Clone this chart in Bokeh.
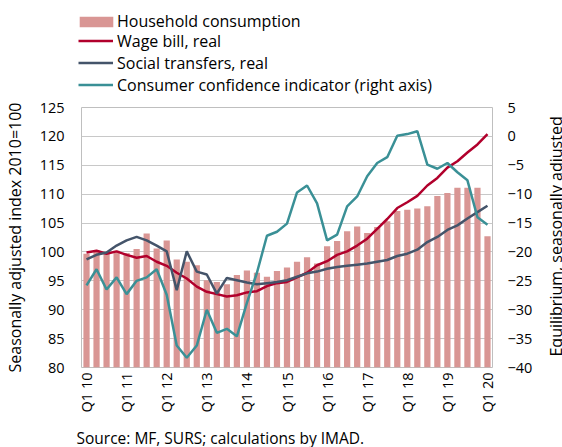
import math
from bokeh.plotting import figure
from bokeh.layouts import column, row
from bokeh.models import (Range1d, LinearAxis, FixedTicker, Legend, LegendItem, Label)
from bokeh.embed import file_html
from bokeh.resources import INLINE

# ---------------- data ----------------
tick_labels = ["Q1 10", "Q1 11", "Q1 12", "Q1 13", "Q1 14", "Q1 15",
               "Q1 16", "Q1 17", "Q1 18", "Q1 19", "Q1 20"]

household = [99.7, 100.3, 99.8, 100.2, 99.8, 100.5, 103.2, 100.6, 102.0, 98.7,
             98.3, 97.7, 95.1, 94.8, 94.4, 96.0, 96.8, 96.4, 95.7, 96.7,
             97.3, 98.3, 99.1, 98.0, 101.0, 101.9, 103.6, 104.4, 103.3, 104.3,
             105.3, 107.1, 107.3, 107.5, 107.9, 109.7, 110.2, 111.1, 111.1, 111.1,
             102.7]

wage_bill = [99.9, 100.2, 99.7, 100.1, 99.5, 99.0, 99.3, 98.3, 97.6, 96.4,
             95.4, 94.0, 93.1, 92.7, 92.3, 92.5, 93.0, 93.2, 94.1, 94.6,
             94.8, 95.6, 96.4, 97.7, 98.4, 99.5, 100.1, 101.1, 102.3, 104.0,
             105.7, 107.6, 108.6, 109.7, 111.5, 112.8, 114.6, 115.7, 117.2, 118.6,
             120.4]

social = [98.7, 99.5, 99.9, 101.1, 102.0, 102.6, 102.0, 101.1, 100.1, 93.4,
          100.1, 96.6, 96.1, 92.8, 95.5, 95.1, 94.7, 94.4, 94.6, 94.8,
          95.1, 95.7, 96.3, 96.6, 97.1, 97.4, 97.6, 97.8, 98.0, 98.3,
          98.6, 99.3, 99.7, 100.4, 101.7, 102.6, 103.8, 104.6, 105.8, 106.9,
          108.0]

confidence = [-25.8, -23.0, -26.5, -24.4, -27.3, -25.0, -24.4, -23.0, -27.4, -36.2,
              -38.3, -36.2, -30.0, -34.0, -33.3, -34.6, -28.8, -23.6, -17.2, -16.5,
              -15.1, -9.7, -8.5, -11.6, -18.0, -17.0, -12.1, -10.4, -6.9, -4.6,
              -3.6, 0.1, 0.4, 0.9, -4.9, -5.6, -4.6, -6.2, -7.6, -14.0,
              -15.3]

left_ticks = [80, 85, 90, 95, 100, 105, 110, 115, 120, 125]
right_ticks = [-40, -35, -30, -25, -20, -15, -10, -5, 0, 5]

series_names = ["Household consumption", "Wage bill, real", "Social transfers, real",
                "Consumer confidence indicator (right axis)"]
left_title = "Seasonally adjusted index 2010=100"
right_title = "Equilibrium, seasonally adjusted"
source_note = "Source: MF, SURS; calculations  by IMAD."

# ---------------- style ----------------
FONT = "Open Sans"
BAR_C = "#D99694"
RED_C = "#B1002C"
BLUE_C = "#44546A"
TEAL_C = "#3A9096"
GRID_C = "#C8C8C8"
LW = 2.5
BAR_W = 0.62

n = len(household)
xs = list(range(n))

TOP_H = 95       # legend strip
MAIN_H = 320     # main chart
BOT_H = 447 - TOP_H - MAIN_H
MAIN_W = 545
SIDE_W = 562 - MAIN_W

def strip(w, h):
    f = figure(width=w, height=h, output_backend="svg", toolbar_location=None,
               x_range=Range1d(0, w), y_range=Range1d(0, h),
               x_axis_location=None, y_axis_location=None, min_border=0)
    f.outline_line_color = None
    f.grid.visible = False
    f.background_fill_color = "white"
    f.border_fill_color = "white"
    return f

# ================= main chart =================
p = figure(width=MAIN_W, height=MAIN_H, output_backend="svg", toolbar_location=None,
           x_range=Range1d(-0.5, n - 0.5), y_range=Range1d(left_ticks[0], left_ticks[-1]),
           min_border_left=79, min_border_right=MAIN_W - 492, min_border_top=107 - TOP_H,
           min_border_bottom=TOP_H + MAIN_H - 368)
p.extra_y_ranges = {"cc": Range1d(right_ticks[0], right_ticks[-1])}

p.outline_line_color = "#BFBFBF"
p.outline_line_width = 1
p.background_fill_color = "white"
p.border_fill_color = "white"

p.xgrid.visible = False
p.ygrid.ticker = FixedTicker(ticks=left_ticks)
p.ygrid.grid_line_color = GRID_C
p.ygrid.grid_line_width = 1

def style_axis(ax, standoff):
    ax.axis_line_color = None
    ax.major_tick_line_color = None
    ax.minor_tick_line_color = None
    ax.major_tick_out = 0
    ax.major_tick_in = 0
    ax.major_label_standoff = standoff
    ax.major_label_text_font = FONT
    ax.major_label_text_font_size = "14.5px"
    ax.major_label_text_color = "#000000"
    ax.axis_label_text_font = FONT
    ax.axis_label_text_font_size = "16px"
    ax.axis_label_text_font_style = "normal"
    ax.axis_label_text_color = "#000000"

yax = p.yaxis[0]
yax.ticker = FixedTicker(ticks=left_ticks)
style_axis(yax, 17)
yax.axis_label = left_title
yax.axis_label_standoff = 11

xax = p.xaxis[0]
q_ticks = list(range(0, n, 4))
xax.ticker = FixedTicker(ticks=q_ticks)
xax.major_label_overrides = {t: lab for t, lab in zip(q_ticks, tick_labels)}
xax.major_label_orientation = math.pi / 2
style_axis(xax, 5)

rax = LinearAxis(y_range_name="cc", ticker=FixedTicker(ticks=right_ticks))
style_axis(rax, 15)
p.add_layout(rax, "right")

p.vbar(x=xs, top=household, bottom=left_ticks[0], width=BAR_W,
       fill_color=BAR_C, line_color=None)
p.line(xs, wage_bill, line_color=RED_C, line_width=LW)
p.line(xs, social, line_color=BLUE_C, line_width=LW)
p.line(xs, confidence, line_color=TEAL_C, line_width=LW, y_range_name="cc")

# ================= legend strip (top) =================
# hidden copies of the series feed the legend swatches
top = strip(562, TOP_H)
r_bar = top.vbar(x=xs, top=household, bottom=left_ticks[0], width=BAR_W,
                 fill_color=BAR_C, line_color=None, visible=False)
r_wage = top.line(xs, wage_bill, line_color=RED_C, line_width=LW, visible=False)
r_soc = top.line(xs, social, line_color=BLUE_C, line_width=LW, visible=False)
r_cc = top.line(xs, confidence, line_color=TEAL_C, line_width=LW, visible=False)

leg_common = dict(label_text_font=FONT, label_text_font_size="16px",
                  label_text_color="#000000", padding=0, margin=0,
                  border_line_color=None, background_fill_alpha=0,
                  label_height=20, inactive_fill_alpha=0)
leg1 = Legend(items=[LegendItem(label=series_names[0], renderers=[r_bar])],
              location=(75, 63), glyph_width=42, glyph_height=13,
              label_standoff=0, spacing=0, **leg_common)
leg2 = Legend(items=[LegendItem(label=series_names[1], renderers=[r_wage]),
                     LegendItem(label=series_names[2], renderers=[r_soc]),
                     LegendItem(label=series_names[3], renderers=[r_cc])],
              location=(78, -0.5), glyph_width=35, glyph_height=13,
              label_standoff=4, spacing=-1, **leg_common)
top.add_layout(leg1)
top.add_layout(leg2)

# ================= right title strip =================
side = strip(SIDE_W, MAIN_H)
side.add_layout(Label(x=10, y=13.5, text=right_title,
                      angle=math.pi / 2, text_align="left", text_baseline="middle",
                      text_font=FONT, text_font_size="16px", text_color="#000000"))

# ================= source strip (bottom) =================
bot = strip(562, BOT_H)
bot.add_layout(Label(x=76, y=10, text=source_note,
                     text_align="left", text_baseline="alphabetic",
                     text_font=FONT, text_font_size="15.5px", text_color="#000000"))

layout = column(top, row(p, side, spacing=0), bot, spacing=0)

open("out.html", "w").write(file_html(layout, INLINE))
